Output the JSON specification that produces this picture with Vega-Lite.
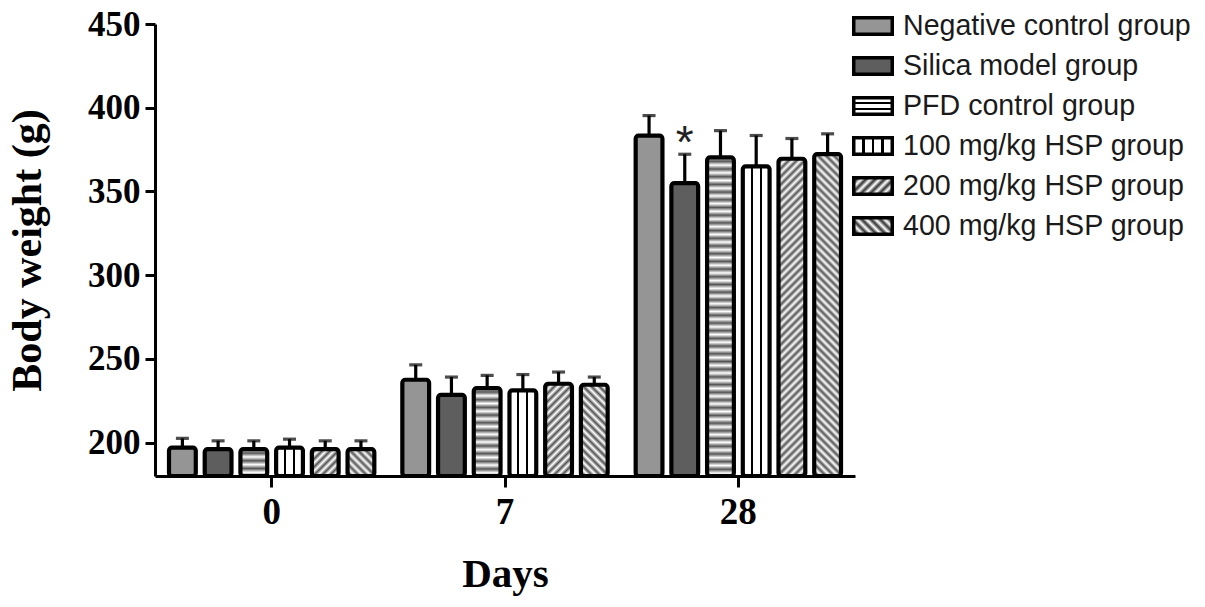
{
  "$schema": "https://vega.github.io/schema/vega-lite/v6.json",
  "width": 700,
  "height": 452,
  "autosize": {"type": "none"},
  "padding": {"left": 155, "top": 24, "right": 350, "bottom": 131},
  "background": "white",
  "config": {"view": {"stroke": null}},
  "params": [
    {"name": "S", "value": [
      {"offset":0,"color":"#fff"},{"offset":0.01,"color":"#555"},{"offset":0.02,"color":"#fff"},{"offset":0.03,"color":"#555"},{"offset":0.04,"color":"#fff"},{"offset":0.05,"color":"#555"},{"offset":0.06,"color":"#fff"},{"offset":0.07,"color":"#555"},{"offset":0.08,"color":"#fff"},{"offset":0.09,"color":"#555"},
      {"offset":0.1,"color":"#fff"},{"offset":0.11,"color":"#555"},{"offset":0.12,"color":"#fff"},{"offset":0.13,"color":"#555"},{"offset":0.14,"color":"#fff"},{"offset":0.15,"color":"#555"},{"offset":0.16,"color":"#fff"},{"offset":0.17,"color":"#555"},{"offset":0.18,"color":"#fff"},{"offset":0.19,"color":"#555"},
      {"offset":0.2,"color":"#fff"},{"offset":0.21,"color":"#555"},{"offset":0.22,"color":"#fff"},{"offset":0.23,"color":"#555"},{"offset":0.24,"color":"#fff"},{"offset":0.25,"color":"#555"},{"offset":0.26,"color":"#fff"},{"offset":0.27,"color":"#555"},{"offset":0.28,"color":"#fff"},{"offset":0.29,"color":"#555"},
      {"offset":0.3,"color":"#fff"},{"offset":0.31,"color":"#555"},{"offset":0.32,"color":"#fff"},{"offset":0.33,"color":"#555"},{"offset":0.34,"color":"#fff"},{"offset":0.35,"color":"#555"},{"offset":0.36,"color":"#fff"},{"offset":0.37,"color":"#555"},{"offset":0.38,"color":"#fff"},{"offset":0.39,"color":"#555"},
      {"offset":0.4,"color":"#fff"},{"offset":0.41,"color":"#555"},{"offset":0.42,"color":"#fff"},{"offset":0.43,"color":"#555"},{"offset":0.44,"color":"#fff"},{"offset":0.45,"color":"#555"},{"offset":0.46,"color":"#fff"},{"offset":0.47,"color":"#555"},{"offset":0.48,"color":"#fff"},{"offset":0.49,"color":"#555"},
      {"offset":0.5,"color":"#fff"},{"offset":0.51,"color":"#555"},{"offset":0.52,"color":"#fff"},{"offset":0.53,"color":"#555"},{"offset":0.54,"color":"#fff"},{"offset":0.55,"color":"#555"},{"offset":0.56,"color":"#fff"},{"offset":0.57,"color":"#555"},{"offset":0.58,"color":"#fff"},{"offset":0.59,"color":"#555"},
      {"offset":0.6,"color":"#fff"},{"offset":0.61,"color":"#555"},{"offset":0.62,"color":"#fff"},{"offset":0.63,"color":"#555"},{"offset":0.64,"color":"#fff"},{"offset":0.65,"color":"#555"},{"offset":0.66,"color":"#fff"},{"offset":0.67,"color":"#555"},{"offset":0.68,"color":"#fff"},{"offset":0.69,"color":"#555"},
      {"offset":0.7,"color":"#fff"},{"offset":0.71,"color":"#555"},{"offset":0.72,"color":"#fff"},{"offset":0.73,"color":"#555"},{"offset":0.74,"color":"#fff"},{"offset":0.75,"color":"#555"},{"offset":0.76,"color":"#fff"},{"offset":0.77,"color":"#555"},{"offset":0.78,"color":"#fff"},{"offset":0.79,"color":"#555"},
      {"offset":0.8,"color":"#fff"},{"offset":0.81,"color":"#555"},{"offset":0.82,"color":"#fff"},{"offset":0.83,"color":"#555"},{"offset":0.84,"color":"#fff"},{"offset":0.85,"color":"#555"},{"offset":0.86,"color":"#fff"},{"offset":0.87,"color":"#555"},{"offset":0.88,"color":"#fff"},{"offset":0.89,"color":"#555"},
      {"offset":0.9,"color":"#fff"},{"offset":0.91,"color":"#555"},{"offset":0.92,"color":"#fff"},{"offset":0.93,"color":"#555"},{"offset":0.94,"color":"#fff"},{"offset":0.95,"color":"#555"},{"offset":0.96,"color":"#fff"},{"offset":0.97,"color":"#555"},{"offset":0.98,"color":"#fff"},{"offset":0.99,"color":"#555"},
      {"offset":1,"color":"#fff"}
    ]},
    {"name": "LH", "value": {"gradient": "linear", "x1": 0, "y1": 0, "x2": 0, "y2": 1, "stops": [{"offset":0,"color":"#fff"},{"offset":0.26,"color":"#fff"},{"offset":0.26,"color":"#000"},{"offset":0.4,"color":"#000"},{"offset":0.4,"color":"#fff"},{"offset":0.6,"color":"#fff"},{"offset":0.6,"color":"#000"},{"offset":0.74,"color":"#000"},{"offset":0.74,"color":"#fff"},{"offset":1,"color":"#fff"}]}},
    {"name": "LV", "value": {"gradient": "linear", "x1": 0, "y1": 0, "x2": 1, "y2": 0, "stops": [{"offset":0,"color":"#fff"},{"offset":0.22,"color":"#fff"},{"offset":0.22,"color":"#000"},{"offset":0.28,"color":"#000"},{"offset":0.28,"color":"#fff"},{"offset":0.47,"color":"#fff"},{"offset":0.47,"color":"#000"},{"offset":0.53,"color":"#000"},{"offset":0.53,"color":"#fff"},{"offset":0.72,"color":"#fff"},{"offset":0.72,"color":"#000"},{"offset":0.78,"color":"#000"},{"offset":0.78,"color":"#fff"},{"offset":1,"color":"#fff"}]}},
    {"name": "LD", "value": {"gradient": "linear", "x1": 0, "y1": 0, "x2": 1.207, "y2": 0.519, "stops": [{"offset":0,"color":"#fff"},{"offset":0.0833,"color":"#333"},{"offset":0.1667,"color":"#fff"},{"offset":0.25,"color":"#333"},{"offset":0.3333,"color":"#fff"},{"offset":0.4167,"color":"#333"},{"offset":0.5,"color":"#fff"},{"offset":0.5833,"color":"#333"},{"offset":0.6667,"color":"#fff"},{"offset":0.75,"color":"#333"},{"offset":0.8333,"color":"#fff"},{"offset":0.9167,"color":"#333"},{"offset":1,"color":"#fff"}]}},
    {"name": "LB", "value": {"gradient": "linear", "x1": 0, "y1": 1, "x2": 1.207, "y2": 0.481, "stops": [{"offset":0,"color":"#fff"},{"offset":0.0833,"color":"#333"},{"offset":0.1667,"color":"#fff"},{"offset":0.25,"color":"#333"},{"offset":0.3333,"color":"#fff"},{"offset":0.4167,"color":"#333"},{"offset":0.5,"color":"#fff"},{"offset":0.5833,"color":"#333"},{"offset":0.6667,"color":"#fff"},{"offset":0.75,"color":"#333"},{"offset":0.8333,"color":"#fff"},{"offset":0.9167,"color":"#333"},{"offset":1,"color":"#fff"}]}},
    {"name": "BV", "value": {"gradient": "linear", "x1": 0, "y1": 0, "x2": 1, "y2": 0, "stops": [{"offset":0,"color":"#fff"},{"offset":0.29,"color":"#fff"},{"offset":0.29,"color":"#000"},{"offset":0.37,"color":"#000"},{"offset":0.37,"color":"#fff"},{"offset":0.63,"color":"#fff"},{"offset":0.63,"color":"#000"},{"offset":0.71,"color":"#000"},{"offset":0.71,"color":"#fff"},{"offset":1,"color":"#fff"}]}}
  ],
  "data": {"values": [
    {"day": "0", "group": "Negative control group", "mean": 197, "upper": 202.5, "sig": ""},
    {"day": "0", "group": "Silica model group", "mean": 196, "upper": 201, "sig": ""},
    {"day": "0", "group": "PFD control group", "mean": 196, "upper": 201, "sig": ""},
    {"day": "0", "group": "100 mg/kg HSP group", "mean": 197, "upper": 202, "sig": ""},
    {"day": "0", "group": "200 mg/kg HSP group", "mean": 196, "upper": 201, "sig": ""},
    {"day": "0", "group": "400 mg/kg HSP group", "mean": 196, "upper": 201, "sig": ""},
    {"day": "7", "group": "Negative control group", "mean": 237.5, "upper": 246.4, "sig": ""},
    {"day": "7", "group": "Silica model group", "mean": 228.5, "upper": 239.1, "sig": ""},
    {"day": "7", "group": "PFD control group", "mean": 232.5, "upper": 240.1, "sig": ""},
    {"day": "7", "group": "100 mg/kg HSP group", "mean": 231.1, "upper": 240.6, "sig": ""},
    {"day": "7", "group": "200 mg/kg HSP group", "mean": 235.1, "upper": 242.1, "sig": ""},
    {"day": "7", "group": "400 mg/kg HSP group", "mean": 234.5, "upper": 239.1, "sig": ""},
    {"day": "28", "group": "Negative control group", "mean": 383.3, "upper": 395.3, "sig": ""},
    {"day": "28", "group": "Silica model group", "mean": 355, "upper": 372.2, "sig": "*"},
    {"day": "28", "group": "PFD control group", "mean": 370.3, "upper": 386.3, "sig": ""},
    {"day": "28", "group": "100 mg/kg HSP group", "mean": 365, "upper": 383.4, "sig": ""},
    {"day": "28", "group": "200 mg/kg HSP group", "mean": 369.5, "upper": 381.6, "sig": ""},
    {"day": "28", "group": "400 mg/kg HSP group", "mean": 372.3, "upper": 384.4, "sig": ""}
  ]},
  "encoding": {
    "x": {
      "field": "day", "type": "nominal", "sort": ["0", "7", "28"], "title": "Days",
      "scale": {"paddingInner": 0.12, "paddingOuter": 0.06},
      "axis": {"labelAngle": 0, "labelFont": "Liberation Serif", "labelFontWeight": "bold", "labelFontSize": 37, "labelColor": "black", "labelPadding": 7, "tickSize": 11, "tickWidth": 3, "tickColor": "black", "domainColor": "black", "domainWidth": 3, "titleFont": "Liberation Serif", "titleFontSize": 41, "titleFontWeight": "bold", "titleColor": "black", "titlePadding": 24}
    },
    "xOffset": {
      "field": "group", "type": "nominal",
      "sort": ["Negative control group", "Silica model group", "PFD control group", "100 mg/kg HSP group", "200 mg/kg HSP group", "400 mg/kg HSP group"],
      "scale": {"paddingInner": 0.25, "paddingOuter": 0}
    }
  },
  "layer": [
    {
      "mark": {"type": "bar", "stroke": "black", "strokeWidth": 4.2, "cornerRadius": 3, "strokeJoin": "round"},
      "encoding": {
        "y": {
          "field": "mean", "type": "quantitative", "title": "Body weight (g)",
          "scale": {"domain": [180, 450], "nice": false, "zero": false},
          "axis": {"values": [200, 250, 300, 350, 400, 450], "labelFont": "Liberation Serif", "labelFontWeight": "bold", "labelFontSize": 35, "labelColor": "black", "labelPadding": 5, "tickSize": 10, "tickWidth": 3, "tickColor": "black", "domainColor": "black", "domainWidth": 3, "grid": false, "titleFont": "Liberation Serif", "titleFontSize": 42, "titleFontWeight": "bold", "titleColor": "black", "titlePadding": 38}
        },
        "y2": {"datum": 180},
        "fill": {
          "field": "group", "type": "nominal",
          "sort": ["Negative control group", "Silica model group", "PFD control group", "100 mg/kg HSP group", "200 mg/kg HSP group", "400 mg/kg HSP group"],
          "scale": {
            "domain": ["Negative control group", "Silica model group", "PFD control group", "100 mg/kg HSP group", "200 mg/kg HSP group", "400 mg/kg HSP group"],
            "range": ["#959595", "#5e5e5e", {"expr": "LH"}, {"expr": "LV"}, {"expr": "LD"}, {"expr": "LB"}]
          },
          "legend": {"title": null, "orient": "none", "legendX": 698, "legendY": -18, "padding": 0, "symbolType": "M-1.07,-0.46H1.07V0.46H-1.07Z", "symbolSize": 1296, "symbolStrokeColor": "black", "symbolStrokeWidth": 3.5, "labelFont": "Liberation Sans", "labelFontSize": 28.6, "labelColor": "#1a1a1a", "labelOffset": 10, "rowPadding": 4, "labelLimit": 400},
          "condition": [
            {"test": "datum.group === 'PFD control group'", "value": {"expr": "{gradient:'linear',x1:0,y1:0,x2:0,y2:230/(datum.mean-180),stops:S}"}},
            {"test": "datum.group === '100 mg/kg HSP group'", "value": {"expr": "BV"}},
            {"test": "datum.group === '200 mg/kg HSP group'", "value": {"expr": "{gradient:'linear',x1:0,y1:0,x2:14.93/(1+pow(0.06246*(datum.mean-180),2)),y2:14.93*0.06246*(datum.mean-180)/(1+pow(0.06246*(datum.mean-180),2)),stops:S}"}},
            {"test": "datum.group === '400 mg/kg HSP group'", "value": {"expr": "{gradient:'linear',x1:0,y1:1,x2:14.93/(1+pow(0.06246*(datum.mean-180),2)),y2:1-14.93*0.06246*(datum.mean-180)/(1+pow(0.06246*(datum.mean-180),2)),stops:S}"}}
          ]
        }
      }
    },
    {
      "mark": {"type": "rule", "color": "black", "strokeWidth": 3.2},
      "encoding": {
        "y": {"field": "mean", "type": "quantitative"},
        "y2": {"field": "upper"}
      }
    },
    {
      "mark": {"type": "tick", "color": "black", "thickness": 3.2, "size": 13},
      "encoding": {
        "y": {"field": "upper", "type": "quantitative"}
      }
    },
    {
      "transform": [{"filter": "datum.sig !== ''"}],
      "mark": {"type": "text", "font": "Liberation Sans", "fontSize": 46, "dy": -10, "color": "#222"},
      "encoding": {
        "y": {"field": "upper", "type": "quantitative"},
        "text": {"field": "sig"}
      }
    }
  ]
}
